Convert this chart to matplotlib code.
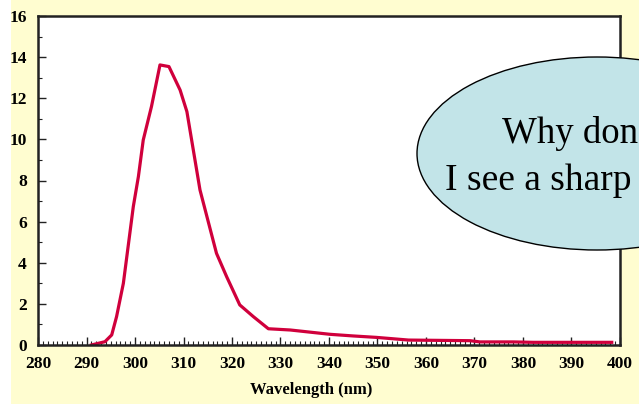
import matplotlib
matplotlib.use("Agg")
import matplotlib.pyplot as plt
from matplotlib.patches import Ellipse, Rectangle
from matplotlib.ticker import MultipleLocator

# Absorbance-like spectrum
wavelength = [291.0, 293.8, 295.2, 296.2, 297.6, 299.65, 300.7, 301.7, 303.4, 305.15,
              307.0, 309.3, 310.7, 313.4, 316.8, 318.9, 321.6, 324.4, 327.5, 332.0,
              340.2, 345.0, 349.8, 356.4, 369.1, 371.1, 378.0, 382.1, 398.3]
intensity = [0.0, 0.16, 0.49, 1.38, 3.0, 6.73, 8.19, 9.97, 11.6, 13.62,
             13.54, 12.4, 11.35, 7.54, 4.46, 3.32, 1.95, 1.38, 0.79, 0.73,
             0.52, 0.44, 0.37, 0.24, 0.21, 0.15, 0.15, 0.13, 0.13]

x_ticks = list(range(280, 401, 10))
y_ticks = list(range(0, 17, 2))
x_label = "Wavelength (nm)"
bubble_lines = ["Why don", "I see a sharp"]

bg = "#FFFDD0"
fig = plt.figure(figsize=(6.39, 4.04), dpi=100, facecolor=bg)
# white strip on the left edge
fig.patches.append(Rectangle((0, 0), 11 / 639, 1, transform=fig.transFigure,
                             facecolor="white", edgecolor="none", zorder=0))

ax = fig.add_axes([38 / 639, 1 - 345 / 404, 582 / 639, 329 / 404])
ax.set_facecolor("white")
ax.plot(wavelength, intensity, color="#D0003C", linewidth=2.3, solid_joinstyle="round")

ax.set_xlim(280, 400)
ax.set_ylim(0, 16)
ax.set_xticks(x_ticks)
ax.set_yticks(y_ticks)
ax.xaxis.set_minor_locator(MultipleLocator(1))
ax.yaxis.set_minor_locator(MultipleLocator(1))
ax.tick_params(which="both", direction="in", top=False, right=False, colors="#222222")
ax.tick_params(which="major", length=6, width=1.0)
ax.tick_params(which="minor", length=3, width=0.8)
ax.tick_params(axis="x", pad=8)
ax.tick_params(axis="y", pad=8)

for lab in ax.get_xticklabels() + ax.get_yticklabels():
    lab.set_fontfamily("Liberation Serif")
    lab.set_fontweight("bold")
    lab.set_fontsize(12.5)
    lab.set_color("black")

for s in ax.spines.values():
    s.set_color("#222222")
    s.set_linewidth(1.8)

ax.set_xlabel(x_label, fontfamily="Liberation Serif", fontweight="bold", fontsize=12)
ax.xaxis.set_label_coords(0.470, -0.112)

# speech bubble, partly off the right edge
bubble = Ellipse((597 / 639, 1 - 153.5 / 404), 360 / 639, 193 / 404,
                 transform=fig.transFigure, facecolor="#C2E4E8",
                 edgecolor="black", linewidth=1.0, zorder=5)
fig.patches.append(bubble)
fig.text(638 / 639, 1 - 143 / 404, bubble_lines[0], fontfamily="Liberation Serif",
         fontsize=26.5, ha="right", va="baseline", zorder=6)
fig.text(445 / 639, 1 - 190 / 404, bubble_lines[1], fontfamily="Liberation Serif",
         fontsize=27, ha="left", va="baseline", zorder=6)

fig.savefig("out.png", dpi=100, facecolor=bg)
